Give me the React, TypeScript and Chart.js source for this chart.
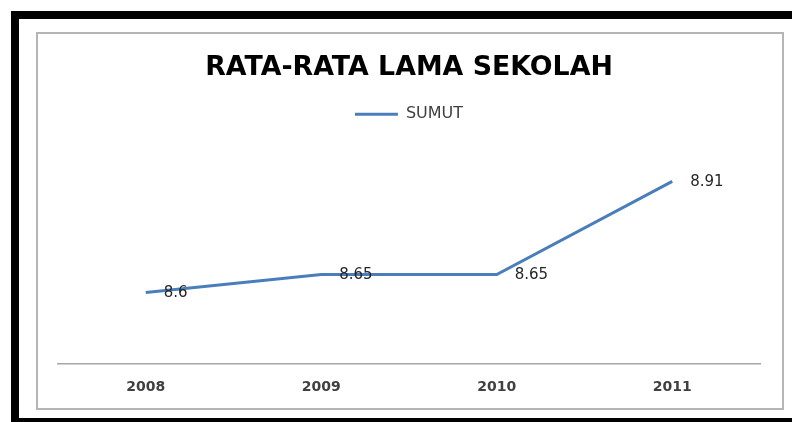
import React, { useEffect, useRef } from "react";
import { Chart, registerables } from "chart.js";

Chart.register(...registerables);

const title = "RATA-RATA LAMA SEKOLAH";
const seriesName = "SUMUT";
const years = ["2008", "2009", "2010", "2011"];
const sumut = [8.6, 8.65, 8.65, 8.91];
const yMin = 8.4;
const yMax = 9.0;

const FONT = "'DejaVu Sans', 'Open Sans', sans-serif";

const valueLabels = {
  id: "valueLabels",
  afterDatasetsDraw(chart: any) {
    const ctx = chart.ctx;
    const meta = chart.getDatasetMeta(0);
    const data = chart.data.datasets[0].data;
    ctx.save();
    ctx.font = `15px ${FONT}`;
    ctx.fillStyle = "#262626";
    ctx.textAlign = "left";
    ctx.textBaseline = "middle";
    meta.data.forEach((pt: any, i: number) => {
      ctx.fillText(String(data[i]), pt.x + 18, pt.y + 1);
    });
    ctx.restore();
  },
};

const legendSpacer = {
  id: "legendSpacer",
  beforeLayout(chart: any) {
    const lg: any = chart.legend;
    if (lg && !lg._spaced) {
      const orig = lg.fit.bind(lg);
      lg.fit = function () {
        orig();
        this.height += 17;
      };
      lg._spaced = true;
    }
  },
};

export default function App() {
  const ref = useRef<HTMLCanvasElement | null>(null);
  useEffect(() => {
    if (!ref.current) return;
    const chart = new Chart(ref.current, {
      type: "line",
      data: {
        labels: years,
        datasets: [
          {
            label: seriesName,
            data: sumut,
            borderColor: "#4a7ebb",
            backgroundColor: "#4a7ebb",
            borderWidth: 3,
            pointRadius: 0,
            pointStyle: "line",
            tension: 0,
          },
        ],
      },
      options: {
        responsive: false,
        animation: false,
        devicePixelRatio: 1,
        layout: { padding: { left: 58, right: 32, top: 32, bottom: 11 } },
        plugins: {
          title: {
            display: true,
            text: title,
            color: "#000000",
            font: { family: FONT, size: 26.8, weight: "bold" },
            padding: { top: 20, bottom: 12 },
          },
          legend: {
            display: true,
            labels: {
              usePointStyle: true,
              pointStyle: "line",
              pointStyleWidth: 43,
              color: "#404040",
              font: { family: FONT, size: 16 },
              padding: 10,
            },
          },
          tooltip: { enabled: false },
        },
        scales: {
          x: {
            offset: true,
            grid: { display: false, drawTicks: false },
            border: { display: true, color: "#a6a6a6", width: 1.5 },
            ticks: {
              color: "#404040",
              font: { family: FONT, size: 14, weight: "bold" },
              padding: 15,
            },
          },
          y: {
            display: false,
            min: yMin,
            max: yMax,
          },
        },
      },
      plugins: [valueLabels, legendSpacer],
    });
    return () => chart.destroy();
  }, []);

  return (
    <div
      style={{
        position: "fixed",
        left: 0,
        top: 0,
        width: 792,
        height: 422,
        background: "#ffffff",
        overflow: "hidden",
      }}
    >
      <div
        style={{
          position: "absolute",
          left: 11,
          top: 11,
          width: 800,
          height: 411,
          boxSizing: "border-box",
          borderTop: "8px solid #000",
          borderLeft: "8px solid #000",
          borderBottom: "4px solid #000",
        }}
      />
      <div
        style={{
          position: "absolute",
          left: 36,
          top: 32,
          width: 748,
          height: 378,
          boxSizing: "border-box",
          border: "2px solid #b5b5b5",
        }}
      />
      <canvas
        ref={ref}
        width={792}
        height={422}
        style={{ position: "absolute", left: 0, top: 0, width: 792, height: 422 }}
      />
    </div>
  );
}
